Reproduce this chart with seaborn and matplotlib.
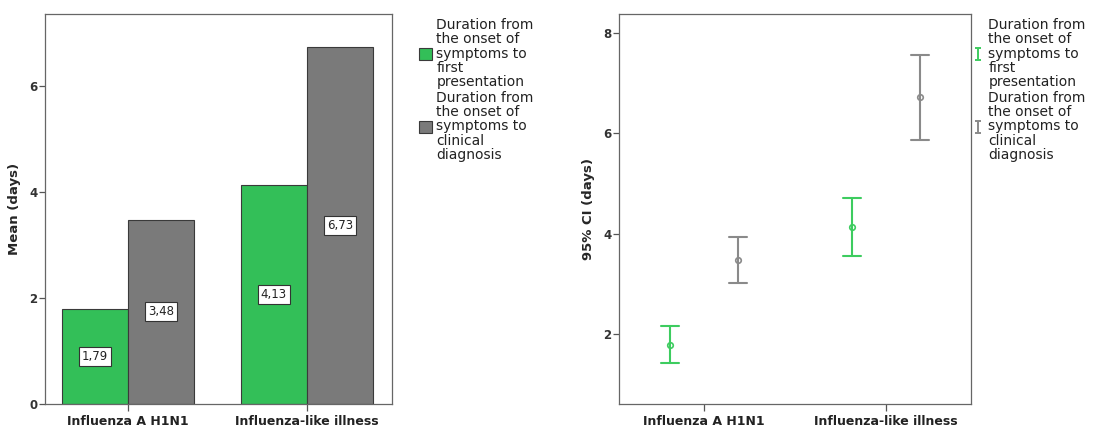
import matplotlib
matplotlib.use("Agg")
import matplotlib.pyplot as plt
import seaborn as sns
import pandas as pd
import numpy as np
from matplotlib.patches import Patch
from matplotlib.lines import Line2D
from matplotlib.path import Path

categories = ["Influenza A H1N1", "Influenza-like illness"]
series = ["Duration from\nthe onset of\nsymptoms to\nfirst\npresentation",
          "Duration from\nthe onset of\nsymptoms to\nclinical\ndiagnosis"]
means_first = [1.79, 4.13]
means_diag = [3.48, 6.73]
ci_low_first = [1.43, 3.55]
ci_high_first = [2.16, 4.72]
ci_low_diag = [3.01, 5.87]
ci_high_diag = [3.93, 7.57]
mean_labels_first = ["1,79", "4,13"]
mean_labels_diag = ["3,48", "6,73"]

bar_colors = ["#33bf58", "#7a7a7a"]
err_colors = ["#3dcc5f", "#8a8a8a"]

sns.set_theme(style="white")
plt.rcParams["font.family"] = ["DejaVu Sans"]

bar_df = pd.DataFrame({
    "category": categories * 2,
    "series": [series[0]] * 2 + [series[1]] * 2,
    "mean": means_first + means_diag,
})

rows = []
for s, lo, mu, hi in [(series[0], ci_low_first, means_first, ci_high_first),
                      (series[1], ci_low_diag, means_diag, ci_high_diag)]:
    for i, c in enumerate(categories):
        for v in (lo[i], mu[i], hi[i]):
            rows.append({"category": c, "series": s, "value": v})
ci_df = pd.DataFrame(rows)

fig = plt.figure(figsize=(11.11, 4.29), dpi=100)
ax1 = fig.add_axes([45 / 1111, 1 - 404 / 429, 347 / 1111, 390 / 429])
ax2 = fig.add_axes([619 / 1111, 1 - 404 / 429, 352 / 1111, 390 / 429])

# Left: bars
sns.barplot(data=bar_df, x="category", y="mean", hue="series", order=categories,
            hue_order=series, palette=bar_colors, width=0.74, errorbar=None,
            edgecolor="#3a3a3a", linewidth=0.8, saturation=1, ax=ax1, legend=False)
for cont, labs in zip(ax1.containers, [mean_labels_first, mean_labels_diag]):
    ax1.bar_label(cont, labels=labs, label_type="center", fontsize=8.5, color="#222222",
                  bbox=dict(boxstyle="square,pad=0.25", fc="white", ec="#333333", lw=0.8))
ax1.set_ylim(0, 7.36)
ax1.set_xlim(-0.464, 1.475)
ax1.set_yticks([0, 2, 4, 6])
ax1.set_ylabel("Mean (days)", fontsize=9.5, fontweight="bold", labelpad=6)
ax1.set_xlabel("")

# Right: CI error bars (median of low/mean/high = mean; full range = CI)
sns.pointplot(data=ci_df, x="category", y="value", hue="series", order=categories,
              hue_order=series, palette=err_colors, estimator="median",
              errorbar=("pi", 100), dodge=0.374, linestyle="none", markers="o",
              capsize=0.095, err_kws={"linewidth": 1.5}, markersize=4,
              markerfacecolor="none", markeredgewidth=1.2, ax=ax2, legend=False)
ax2.set_ylim(0.606, 8.38)
ax2.set_xlim(-0.467, 1.467)
ax2.set_yticks([2, 4, 6, 8])
ax2.set_ylabel("95% CI (days)", fontsize=9.5, fontweight="bold", labelpad=6)
ax2.set_xlabel("")

for ax in (ax1, ax2):
    for sp in ax.spines.values():
        sp.set_visible(True)
        sp.set_color("#666666")
        sp.set_linewidth(0.9)
    ax.tick_params(axis="both", which="major", direction="out", color="#555555",
                   width=0.9, bottom=True, left=True)
    ax.tick_params(axis="x", length=5, labelsize=9, pad=3)
    ax.tick_params(axis="y", length=4, labelsize=8.5, pad=1.5)
    for t in ax.get_xticklabels():
        t.set_fontweight("bold")
        t.set_color("#222222")
    for t in ax.get_yticklabels():
        t.set_fontweight("bold")
        t.set_color("#333333")

# Legends
h1 = [Patch(facecolor=bar_colors[0], edgecolor="#3a3a3a", lw=0.8),
      Patch(facecolor=bar_colors[1], edgecolor="#3a3a3a", lw=0.8)]
leg1 = ax1.legend(h1, series, loc="upper left", bbox_to_anchor=(1.078, 0.99),
                  frameon=False, fontsize=10, borderaxespad=0, borderpad=0,
                  handlelength=0.95, handleheight=0.95, handletextpad=0.3,
                  labelspacing=0.1)

ibeam = Path([(-0.5, 1), (0.5, 1), (0, 1), (0, -1), (-0.5, -1), (0.5, -1)],
             [Path.MOVETO, Path.LINETO, Path.MOVETO, Path.LINETO, Path.MOVETO, Path.LINETO])
h2 = [Line2D([], [], linestyle="none", marker=ibeam, markersize=9,
             markeredgecolor=c, markerfacecolor="none", markeredgewidth=1.4)
      for c in err_colors]
leg2 = ax2.legend(h2, series, loc="upper left", bbox_to_anchor=(1.0, 0.99),
                  frameon=False, fontsize=10, borderaxespad=0, borderpad=0,
                  handlelength=1.0, handletextpad=0.25, labelspacing=0.1)
for leg in (leg1, leg2):
    for t in leg.get_texts():
        t.set_linespacing(1.03)
        t.set_color("#222222")

fig.savefig("out.png", dpi=100)
